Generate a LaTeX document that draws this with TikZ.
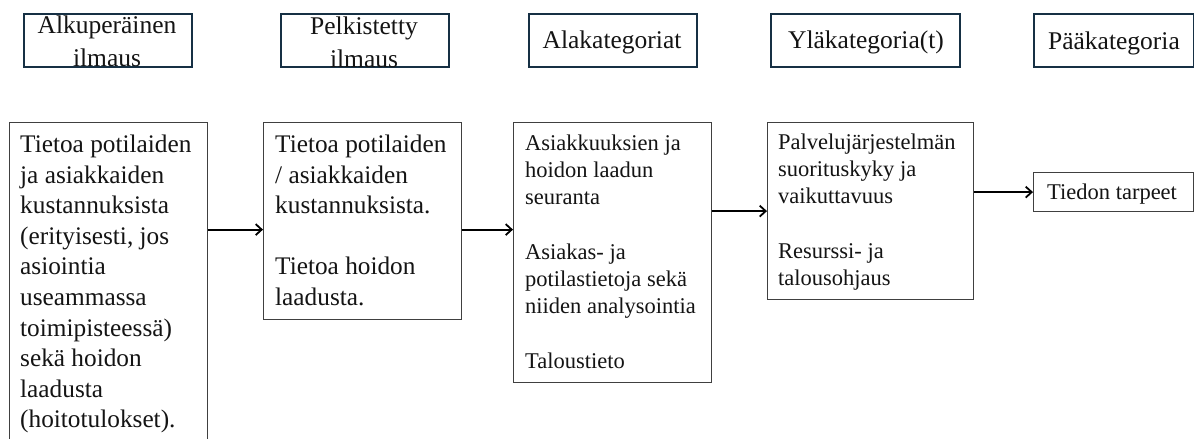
\documentclass[tikz,border=0pt]{standalone}
\usepackage{fontspec}
\setmainfont{Liberation Serif}
\usetikzlibrary{arrows.meta,calc}
\definecolor{hdr}{RGB}{22,48,68}
\definecolor{bdr}{RGB}{64,64,64}
\definecolor{ink}{RGB}{20,20,20}
\tikzset{
  hbox/.style={draw=hdr, line width=2.2pt, fill=white, inner sep=0pt, anchor=north west},
  bbox/.style={draw=bdr, line width=1.2pt, fill=white, inner sep=0pt, anchor=north west},
  htext/.style={inner sep=0pt, text=ink, font=\fontsize{25.5}{33}\selectfont, align=center},
  btext/.style={inner sep=0pt, text=ink, align=left, anchor=north west},
  bigtext/.style={btext, font=\fontsize{25.3}{30.6}\selectfont},
  smalltext/.style={btext, font=\fontsize{22.5}{27.2}\selectfont},
  arr/.style={draw=black, line width=1.8pt, -{Straight Barb[length=6pt,width=11pt]}},
}
\begin{document}
\begin{tikzpicture}[x=1pt,y=-1pt]
\useasboundingbox (0,0) rectangle (1194,439);
% header boxes
\node[hbox, minimum width=168pt, minimum height=53pt] (h1) at (23,13) {};
\node[hbox, minimum width=168pt, minimum height=53pt] (h2) at (280,13) {};
\node[hbox, minimum width=168pt, minimum height=53pt] (h3) at (528,13) {};
\node[hbox, minimum width=189pt, minimum height=53pt] (h4) at (770,12.5) {};
\node[hbox, minimum width=160pt, minimum height=53pt] (h5) at (1033,13) {};
\node[htext, anchor=north] (h1t) at (107,16.1) {Alkuperäinen\\ilmaus};
\node[htext, anchor=north] (h2t) at (364,17.1) {Pelkistetty\\ilmaus};
\node[htext, anchor=base] (h3t) at (612,48.5) {Alakategoriat};
\node[htext, anchor=base] (h4t) at (866,48.5) {Yläkategoria(t)};
\node[htext, anchor=base] (h5t) at (1114,49) {Pääkategoria};
% body boxes
\node[bbox, minimum width=198pt, minimum height=323pt] (b1) at (9,122) {};
\node[bbox, minimum width=198pt, minimum height=197pt] (b2) at (263,122) {};
\node[bbox, minimum width=198pt, minimum height=260pt] (b3) at (513,122) {};
\node[bbox, minimum width=206pt, minimum height=177pt] (b4) at (767,122) {};
\node[bbox, minimum width=160pt, minimum height=39pt] (b5) at (1033,172) {};
\node[bigtext] (b1t) at (20,134.7) {Tietoa potilaiden\\ja asiakkaiden\\kustannuksista\\(erityisesti, jos\\asiointia\\useammassa\\toimipisteessä)\\sekä hoidon\\laadusta\\(hoitotulokset).};
\node[bigtext] (b2t) at (275,134.7) {Tietoa potilaiden\\/ asiakkaiden\\kustannuksista.\\[30.6pt]Tietoa hoidon\\laadusta.};
\node[smalltext] (b3t) at (525,134.6) {Asiakkuuksien ja\\hoidon laadun\\seuranta\\[27.2pt]Asiakas- ja\\potilastietoja sekä\\niiden analysointia\\[27.2pt]Taloustieto};
\node[smalltext] (b4t) at (778,133.6) {Palvelujärjestelmän\\suorituskyky ja\\vaikuttavuus\\[27.2pt]Resurssi- ja\\talousohjaus};
\node[smalltext, anchor=base west] (b5t) at (1047,199) {Tiedon tarpeet};
% arrows
\draw[arr] ([yshift=-8.5pt]b2.west -| b1.east) -- ([yshift=-8.5pt]b2.west);
\draw[arr] ([yshift=-8.5pt]b2.east) -- ([yshift=-8.5pt]b2.east -| b3.west);
\draw[arr] (b3.east |- b4.west) -- (b4.west);
\draw[arr] (b4.east |- b5.west) -- (b5.west);
\end{tikzpicture}
\end{document}
